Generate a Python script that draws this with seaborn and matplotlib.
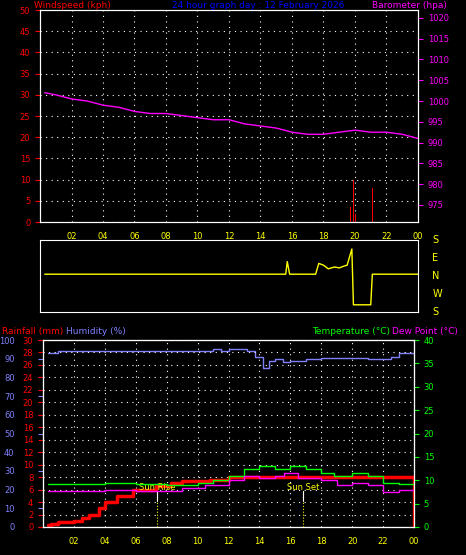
import matplotlib
matplotlib.use("Agg")
import matplotlib.pyplot as plt
import seaborn as sns

# ---- data ----
baro_h = [0.3, 1, 2, 3, 4, 5, 6, 7, 8, 9, 10, 11, 12, 13, 14, 15, 16, 17, 18, 19, 20, 21, 22, 23, 24]
baro_v = [1002, 1001.5, 1000.5, 1000, 999, 998.5, 997.5, 997, 997, 996.5, 996, 995.5, 995.5, 994.5, 994, 993.5, 992.5, 992, 992, 992.5, 993, 992.5, 992.5, 992, 991]

wind_h = [19.7, 19.9, 20.05, 21.1]
wind_v = [3.5, 10, 2, 8]

dir_h = [0.3, 15.6, 15.7, 15.85, 16, 17.5, 17.7, 18.0, 18.3, 18.7, 19.0, 19.3, 19.5, 19.8, 19.9, 21.0, 21.1, 24]
dir_v = [2.1, 2.1, 2.8, 2.1, 2.1, 2.1, 2.7, 2.6, 2.4, 2.5, 2.45, 2.55, 2.6, 3.5, 0.4, 0.4, 2.1, 2.1]

hum_h = [0.3, 1.0, 10.5, 11.0, 11.5, 12, 13.2, 13.7, 14.2, 14.6, 15.0, 15.5, 16.0, 17.0, 18.0, 20.0, 21.0, 22.5, 23.0, 24]
hum_v = [93, 94, 94, 95, 94, 95, 94, 91, 85, 89, 90, 88, 89, 90, 90.5, 90.5, 90, 91, 93, 93]

rain_h = [0.3, 0.5, 1, 2, 2.5, 3, 3.6, 4, 4.8, 5.8, 7.3, 8.3, 9, 10.8, 12, 24, 24.01]
rain_v = [0.3, 0.5, 0.8, 1, 1.5, 2, 3, 4, 5, 6, 6.5, 7, 7.3, 7.5, 8, 8, 0]

temp_h = [0.3, 2, 4, 6, 8, 10, 11, 12, 13, 14, 15, 16, 17, 18, 18.8, 20, 21, 22, 23, 24]
temp_v = [9.3, 9.3, 9.5, 9.2, 9.0, 9.5, 10, 11, 12.5, 13, 12.5, 13, 12.5, 11.5, 11, 11.5, 11, 9.5, 9.2, 9.2]

dew_h = [0.3, 2, 4, 6, 7, 8, 9, 10.5, 12, 13, 14, 15, 15.6, 16.5, 18, 19, 20, 21, 22, 23, 24]
dew_v = [7.6, 7.8, 8, 7.7, 7.8, 7.8, 8.3, 9, 10, 11, 10.5, 11, 11.5, 10.5, 10, 9, 9.5, 9, 7.5, 8, 8]

hours = list(range(2, 25, 2))
hour_labels = ["02", "04", "06", "08", "10", "12", "14", "16", "18", "20", "22", "00"]
sun_rise, sun_set = 7.4, 16.8

sns.set_style("dark", {"axes.facecolor": "black", "figure.facecolor": "black"})
plt.rcParams["font.family"] = ["DejaVu Sans"]
plt.rcParams["font.size"] = 6

fig = plt.figure(figsize=(4.66, 5.55), dpi=100)
W, H = 466, 555
def box(x0, y0, x1, y1):
    return [x0 / W, 1 - y1 / H, (x1 - x0) / W, (y1 - y0) / H]

dots = dict(color="white", linestyle=(0, (1, 4)), linewidth=0.8)

def style(ax):
    for s in ax.spines.values():
        s.set_color("white")
    ax.set_xlim(0, 24)
    ax.set_xticks(hours)
    ax.grid(True, **dots)

# ---- top panel ----
ax1 = fig.add_axes(box(40, 10, 418, 222))
style(ax1)
ax1.set_ylim(0, 50)
ax1.set_yticks(range(0, 51, 5))
ax1.tick_params(axis="y", colors="red", labelsize=6)
ax1.tick_params(axis="x", colors="yellow", labelsize=6)
ax1.set_xticklabels(hour_labels)
ax1.bar(wind_h, wind_v, width=0.06, color="red", edgecolor="red", linewidth=0)
ax1b = ax1.twinx()
ax1b.set_ylim(970.9, 1021.9)
ax1b.set_yticks(range(975, 1021, 5))
ax1b.tick_params(axis="y", colors="#ff00ff", labelsize=6)
sns.lineplot(x=baro_h, y=baro_v, ax=ax1b, color="#ff00ff", linewidth=1)
for s in ax1b.spines.values():
    s.set_color("white")
fig.text(34 / W, 1 - 8 / H, "Windspeed (kph)", color="red", fontsize=6.5)
fig.text(172 / W, 1 - 8 / H, "24 hour graph day : 12 February 2026", color="blue", fontsize=6.5)
fig.text(372 / W, 1 - 8 / H, "Barometer (hpa)", color="#ff00ff", fontsize=6.5)

# ---- wind direction ----
ax2 = fig.add_axes(box(40, 240, 418, 312))
for s in ax2.spines.values():
    s.set_color("white")
ax2.set_xlim(0, 24)
ax2.set_ylim(0, 4)
ax2.set_xticks([])
ax2.set_yticks([])
sns.lineplot(x=dir_h, y=dir_v, ax=ax2, color="yellow", linewidth=1)
for i, lab in enumerate(["S", "W", "N", "E", "S"]):
    ax2.text(24.9, i, lab, color="yellow", fontsize=7, va="center")

# ---- bottom panel ----
ax3 = fig.add_axes(box(43, 340, 414, 527))
style(ax3)
ax3.set_ylim(0, 100)
ax3.set_xticklabels(hour_labels)
ax3.tick_params(axis="x", colors="yellow", labelsize=6)
ax3.set_yticks(range(0, 101, 10))
ax3.tick_params(axis="y", colors="#8080ff", labelsize=6, pad=17)
sns.lineplot(x=hum_h, y=hum_v, ax=ax3, color="#8080ff", linewidth=1, drawstyle="steps-post")
ax3.yaxis.grid(False)
ax3r = ax3.twinx()
ax3r.set_ylim(0, 30)
ax3r.set_yticks(range(0, 31, 2))
ax3r.tick_params(axis="y", colors="red", labelsize=6, left=True, labelleft=True, right=False, labelright=False)
ax3r.yaxis.grid(True, **dots)
ax3t = ax3.twinx()
ax3t.set_ylim(0, 40)
ax3t.set_yticks(range(0, 41, 5))
ax3t.tick_params(axis="y", colors="#00ff00", labelsize=6)
sns.lineplot(x=temp_h, y=temp_v, ax=ax3t, color="#00ff00", linewidth=1, drawstyle="steps-post")
sns.lineplot(x=dew_h, y=dew_v, ax=ax3t, color="#ff00ff", linewidth=1, drawstyle="steps-post")
sns.lineplot(x=rain_h, y=rain_v, ax=ax3r, color="red", linewidth=2.5, drawstyle="steps-post")
for s in list(ax3r.spines.values()) + list(ax3t.spines.values()):
    s.set_color("white")
for t, lab in [(sun_rise, "Sun Rise"), (sun_set, "Sun Set")]:
    ax3r.axvline(t, ymin=0, ymax=0.19, color="yellow", linestyle=":", linewidth=0.8)
    ax3r.plot([t, t], [5.7, 4.2], color="white", linewidth=0.8)
    ax3r.text(t, 5.9, lab, color="yellow", fontsize=6, ha="center")
fig.text(2 / W, 1 - 334 / H, "Rainfall (mm)", color="red", fontsize=6.5)
fig.text(66 / W, 1 - 334 / H, "Humidity (%)", color="#8080ff", fontsize=6.5)
fig.text(312 / W, 1 - 334 / H, "Temperature (°C)", color="#00ff00", fontsize=6.5)
fig.text(392 / W, 1 - 334 / H, "Dew Point (°C)", color="#ff00ff", fontsize=6.5)

fig.savefig("out.png", dpi=100, facecolor="black")
